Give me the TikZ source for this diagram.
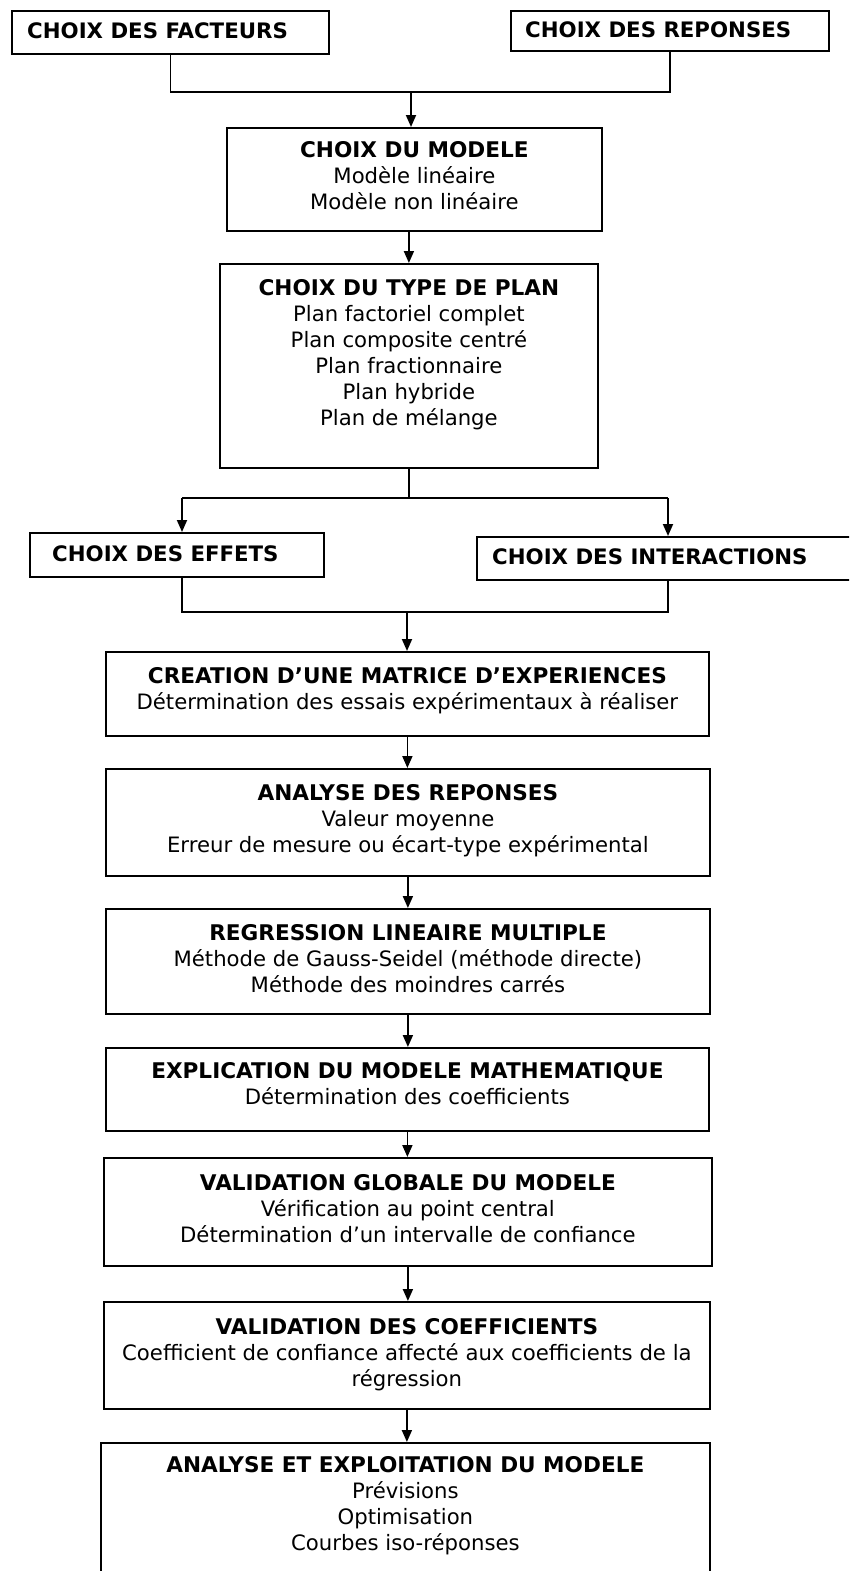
\documentclass[tikz,border=0pt]{standalone}
\usepackage{fontspec}
\setmainfont{DejaVu Sans}
\usetikzlibrary{arrows.meta}
\newcommand{\ttl}[1]{{\fontsize{21.6}{26}\selectfont\bfseries #1}}
\begin{document}
\begin{tikzpicture}[x=1pt,y=-1pt,
  box/.style={draw=black,line width=1.8pt,fill=white,inner sep=0pt,anchor=north west},
  txt/.style={align=center,inner sep=0pt,anchor=north,font=\fontsize{21.2}{26}\selectfont},
  ltxt/.style={inner sep=0pt,anchor=west,font=\fontsize{21.3}{26}\selectfont\bfseries},
  ln/.style={line width=1.8pt},
  arr/.style={line width=1.8pt,-{Triangle[length=12pt,width=10pt]}}]
\useasboundingbox (0,0) rectangle (849,1571);
\clip (0,0) rectangle (849,1571);
% boxes
\node[box,minimum width=317pt,minimum height=43pt] (fac) at (11,10) {};
\node[box,minimum width=318pt,minimum height=40pt] (rep) at (510,10) {};
\node[box,minimum width=375pt,minimum height=103pt] (mod) at (226,127) {};
\node[box,minimum width=378pt,minimum height=204pt] (plan) at (219,263) {};
\node[box,minimum width=294pt,minimum height=44pt] (eff) at (29,532) {};
\node[box,minimum width=384pt,minimum height=43pt] (int) at (476,536) {};
\node[box,minimum width=603pt,minimum height=84pt] (cre) at (105,651) {};
\node[box,minimum width=604pt,minimum height=107pt] (ana) at (105,768) {};
\node[box,minimum width=604pt,minimum height=105pt] (reg) at (105,908) {};
\node[box,minimum width=603pt,minimum height=83pt] (exp) at (105,1047) {};
\node[box,minimum width=608pt,minimum height=108pt] (vg) at (103,1157) {};
\node[box,minimum width=606pt,minimum height=107pt] (vc) at (103,1301) {};
\node[box,minimum width=609pt,minimum height=150pt] (fin) at (100,1442) {};
% texts
\node[ltxt] (tfac) at (27,31) {CHOIX DES FACTEURS};
\node[ltxt] (trep) at (525,30) {CHOIX DES REPONSES};
\node[ltxt] (teff) at (52,554) {CHOIX DES EFFETS};
\node[ltxt] (tint) at (492,557) {CHOIX DES INTERACTIONS};
\node[txt] (tmod) at ([yshift=-14.5]mod.north) {\ttl{CHOIX DU MODELE}\\Modèle linéaire\\Modèle non linéaire};
\node[txt] (tplan) at ([yshift=-16.5]plan.north) {\ttl{CHOIX DU TYPE DE PLAN}\\Plan factoriel complet\\Plan composite centré\\Plan fractionnaire\\Plan hybride\\Plan de mélange};
\node[txt] (tcre) at ([yshift=-16]cre.north) {\ttl{CREATION D’UNE MATRICE D’EXPERIENCES}\\Détermination des essais expérimentaux à réaliser};
\node[txt] (tana) at ([yshift=-16.5]ana.north) {\ttl{ANALYSE DES REPONSES}\\Valeur moyenne\\Erreur de mesure ou écart-type expérimental};
\node[txt] (treg) at ([yshift=-16.5]reg.north) {\ttl{REGRESSION LINEAIRE MULTIPLE}\\Méthode de Gauss-Seidel (méthode directe)\\Méthode des moindres carrés};
\node[txt] (texp) at ([yshift=-15.5]exp.north) {\ttl{EXPLICATION DU MODELE MATHEMATIQUE}\\Détermination des coefficients};
\node[txt] (tvg) at ([yshift=-17.5]vg.north) {\ttl{VALIDATION GLOBALE DU MODELE}\\Vérification au point central\\Détermination d’un intervalle de confiance};
\node[txt] (tvc) at ([yshift=-17]vc.north) {\ttl{VALIDATION DES COEFFICIENTS}\\Coefficient de confiance affecté aux coefficients de la\\régression};
\node[txt] (tfin) at ([yshift=-14.5]fin.north) {\ttl{ANALYSE ET EXPLOITATION DU MODELE}\\Prévisions\\Optimisation\\Courbes iso-réponses};
% junctions
\coordinate (j1) at (411,92);
\coordinate (j2) at (408,498);
\coordinate (j2l) at (182,498);
\coordinate (j2r) at (668,498);
\coordinate (j3) at (407,612);
\coordinate (j3l) at (182,612);
\coordinate (j3r) at (668,612);
% connectors
\draw[ln] (fac.south) |- (j1) -| (rep.south);
\draw[arr] (j1) -- (j1 |- mod.north);
\draw[arr] (mod.south -| plan.north) -- (plan.north);
\draw[ln] (plan.south) -- (plan.south |- j2);
\draw[ln] (j2l) -- (j2r);
\draw[arr] (j2l) -- (j2l |- eff.north);
\draw[arr] (j2r) -- (j2r |- int.north);
\draw[ln] (j3l |- eff.south) -- (j3l) -- (j3r) -- (j3r |- int.south);
\draw[arr] (j3) -- (j3 |- cre.north);
\draw[arr] (cre.south) -- (cre.south |- ana.north);
\draw[arr] (ana.south) -- (ana.south |- reg.north);
\draw[arr] (reg.south) -- (reg.south |- exp.north);
\draw[arr] (exp.south) -- (exp.south |- vg.north);
\draw[arr] (vg.south) -- (vg.south |- vc.north);
\draw[arr] (vc.south) -- (vc.south |- fin.north);
\end{tikzpicture}
\end{document}
